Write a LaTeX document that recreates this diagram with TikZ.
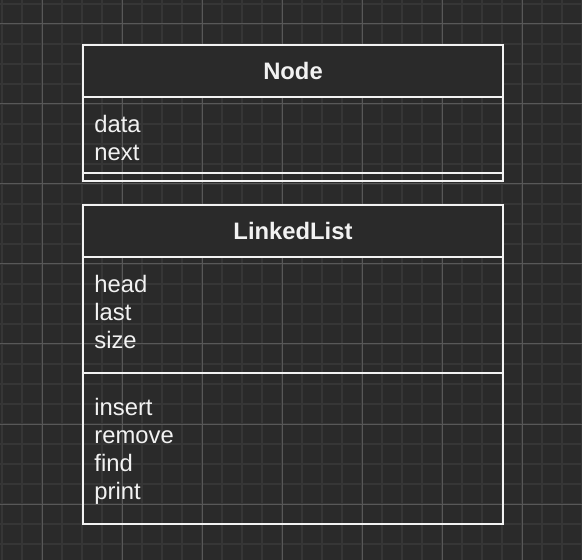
\documentclass[tikz,border=0pt]{standalone}
\usepackage{fontspec}
\setmainfont{Liberation Sans}
\usepackage{tikz}
\usetikzlibrary{positioning}
\definecolor{canvas}{HTML}{2A2A2A}
\definecolor{minorgrid}{HTML}{363636}
\definecolor{majorgrid}{HTML}{585858}
\definecolor{chalk}{HTML}{F2F2F2}
\newcommand{\umlfont}{\fontsize{11.9}{14}\selectfont}

\begin{document}
\begin{tikzpicture}[x=0.5pt, y=-0.5pt, node distance=13.9pt,
  header/.style={draw=chalk, fill=canvas, line width=1pt, minimum width=210pt, minimum height=26pt, inner sep=0pt, outer sep=0pt, text=chalk, font=\umlfont\bfseries},
  section/.style={draw=chalk, line width=1pt, minimum width=210pt, inner sep=0pt, outer sep=0pt},
  member/.style={text=chalk, font=\umlfont, text height=8.5pt, text depth=2.5pt, inner sep=0pt, anchor=west}]
\useasboundingbox[fill=canvas] (0,0) rectangle (582,560);

% grid
\foreach \gx in {2,22,...,582} \draw[minorgrid, line width=1pt] (\gx,0) -- (\gx,560);
\foreach \gy in {4,24,...,544} \draw[minorgrid, line width=1pt] (0,\gy) -- (582,\gy);
\foreach \gx in {42,122,...,522} \draw[majorgrid, line width=0.5pt] (\gx,0) -- (\gx,560);
\foreach \gy in {24,104,...,504} \draw[majorgrid, line width=0.5pt] (0,\gy) -- (582,\gy);

% Node
\node[header, anchor=north west] (nodehead) at (83,45) {Node};
\node[section, minimum height=38pt, below=0pt of nodehead] (nodeattr) {};
\node[section, minimum height=4pt, below=0pt of nodeattr] (nodeops) {};
\node[member] (data) at ([xshift=5.5pt, yshift=-14.9pt] nodeattr.north west) {data};
\node[below=of data.west, member] (next) {next};

% LinkedList
\node[header, anchor=north west] (listhead) at (83,204.7) {LinkedList};
\node[section, minimum height=58pt, below=0pt of listhead] (listattr) {};
\node[section, minimum height=75.5pt, below=0pt of listattr] (listops) {};
\node[member] (head) at ([xshift=5.5pt, yshift=-14.9pt] listattr.north west) {head};
\node[below=of head.west, member] (last) {last};
\node[below=of last.west, member] (size) {size};
\node[member] (insert) at ([xshift=5.5pt, yshift=-18.6pt] listops.north west) {insert};
\node[below=of insert.west, member] (remove) {remove};
\node[below=of remove.west, member] (find) {find};
\node[below=of find.west, member] (print) {print};
\end{tikzpicture}
\end{document}
